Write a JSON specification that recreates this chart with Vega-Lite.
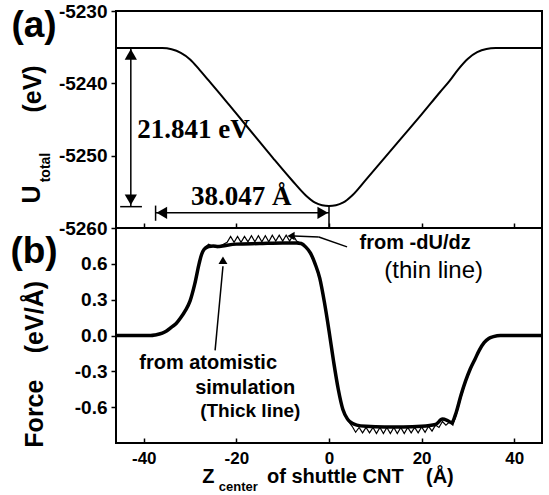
{
  "$schema": "https://vega.github.io/schema/vega-lite/v6.json",
  "padding": {"left": 9, "top": 1, "right": 0, "bottom": 0},
  "spacing": 0,
  "bounds": "flush",
  "config": {
    "view": {"stroke": "black", "strokeWidth": 2},
    "axis": {"grid": false, "domain": false, "labelFont": "Liberation Sans", "labelFontWeight": "bold", "labelColor": "black", "tickColor": "black", "tickWidth": 1.5},
    "font": "Liberation Sans"
  },
  "datasets": {
    "U": [
      {"z": -46, "U": -5235.1}, {"z": -40, "U": -5235.1}, {"z": -36, "U": -5235.12}, {"z": -34, "U": -5235.3},
      {"z": -32, "U": -5235.8}, {"z": -30, "U": -5236.7}, {"z": -28, "U": -5238.1}, {"z": -26, "U": -5239.6},
      {"z": -24, "U": -5241.1}, {"z": -20, "U": -5244.2}, {"z": -16, "U": -5247.3}, {"z": -12, "U": -5250.4},
      {"z": -8, "U": -5253.4}, {"z": -5, "U": -5255.5}, {"z": -3, "U": -5256.5}, {"z": -1.5, "U": -5256.85},
      {"z": 0, "U": -5256.95}, {"z": 1.5, "U": -5256.85}, {"z": 3, "U": -5256.5}, {"z": 5, "U": -5255.5},
      {"z": 8, "U": -5253.3}, {"z": 12, "U": -5250.3}, {"z": 16, "U": -5247.3}, {"z": 20, "U": -5244.3},
      {"z": 24, "U": -5241.2}, {"z": 26, "U": -5239.7}, {"z": 28, "U": -5238.0}, {"z": 30, "U": -5236.6},
      {"z": 32, "U": -5235.7}, {"z": 34, "U": -5235.25}, {"z": 36, "U": -5235.12}, {"z": 40, "U": -5235.1},
      {"z": 46, "U": -5235.1}
    ],
    "thick": [
      {"z": -46, "F": 0}, {"z": -40, "F": 0}, {"z": -38.5, "F": 0}, {"z": -37.5, "F": 0.005}, {"z": -36, "F": 0.02},
      {"z": -35, "F": 0.04}, {"z": -34, "F": 0.07}, {"z": -33, "F": 0.1}, {"z": -32, "F": 0.15}, {"z": -31, "F": 0.21},
      {"z": -30, "F": 0.29}, {"z": -29, "F": 0.43}, {"z": -28, "F": 0.61}, {"z": -27.5, "F": 0.68}, {"z": -27, "F": 0.72},
      {"z": -26, "F": 0.745}, {"z": -25, "F": 0.75}, {"z": -24, "F": 0.745}, {"z": -23, "F": 0.75}, {"z": -20, "F": 0.765},
      {"z": -15, "F": 0.77}, {"z": -10, "F": 0.775}, {"z": -7, "F": 0.775}, {"z": -6, "F": 0.77}, {"z": -5, "F": 0.74},
      {"z": -4, "F": 0.69}, {"z": -3, "F": 0.6}, {"z": -2, "F": 0.48}, {"z": -1, "F": 0.28}, {"z": 0, "F": 0.04},
      {"z": 1, "F": -0.22}, {"z": 2, "F": -0.45}, {"z": 3, "F": -0.62}, {"z": 4, "F": -0.7}, {"z": 5, "F": -0.735},
      {"z": 6, "F": -0.75}, {"z": 8, "F": -0.76}, {"z": 12, "F": -0.765}, {"z": 16, "F": -0.765}, {"z": 20, "F": -0.76},
      {"z": 23, "F": -0.745}, {"z": 24.5, "F": -0.7}, {"z": 25.5, "F": -0.71}, {"z": 26.5, "F": -0.73}, {"z": 27.5, "F": -0.64},
      {"z": 28.5, "F": -0.5}, {"z": 29.5, "F": -0.38}, {"z": 30.5, "F": -0.28}, {"z": 31.5, "F": -0.2}, {"z": 32.5, "F": -0.12},
      {"z": 33.5, "F": -0.06}, {"z": 34.5, "F": -0.025}, {"z": 35.5, "F": -0.01}, {"z": 37, "F": 0}, {"z": 46, "F": 0}
    ],
    "thin": [
      {"z": -46, "F": 0}, {"z": -38.5, "F": 0}, {"z": -37.5, "F": 0.005}, {"z": -36, "F": 0.02}, {"z": -35, "F": 0.04},
      {"z": -34, "F": 0.07}, {"z": -33, "F": 0.1}, {"z": -32, "F": 0.15}, {"z": -31, "F": 0.21}, {"z": -30, "F": 0.29},
      {"z": -29, "F": 0.43}, {"z": -28, "F": 0.62}, {"z": -27, "F": 0.73}, {"z": -26, "F": 0.765}, {"z": -25, "F": 0.745},
      {"z": -24, "F": 0.735}, {"z": -23, "F": 0.76}, {"z": -22, "F": 0.78}, {"z": -21.25, "F": 0.83}, {"z": -20.5, "F": 0.78},
      {"z": -19.75, "F": 0.83}, {"z": -19, "F": 0.78}, {"z": -18.25, "F": 0.83}, {"z": -17.5, "F": 0.785}, {"z": -16.75, "F": 0.835},
      {"z": -16, "F": 0.785}, {"z": -15.25, "F": 0.835}, {"z": -14.5, "F": 0.785}, {"z": -13.75, "F": 0.835}, {"z": -13, "F": 0.785},
      {"z": -12.25, "F": 0.84}, {"z": -11.5, "F": 0.79}, {"z": -10.75, "F": 0.84}, {"z": -10, "F": 0.79}, {"z": -9.25, "F": 0.84},
      {"z": -8.5, "F": 0.79}, {"z": -7.75, "F": 0.84}, {"z": -7, "F": 0.79}, {"z": -6, "F": 0.77}, {"z": -5, "F": 0.74},
      {"z": -4, "F": 0.685}, {"z": -3, "F": 0.59}, {"z": -2, "F": 0.47}, {"z": -1, "F": 0.27}, {"z": 0, "F": 0.03},
      {"z": 1, "F": -0.23}, {"z": 2, "F": -0.46}, {"z": 3, "F": -0.63}, {"z": 4, "F": -0.71}, {"z": 5, "F": -0.76},
      {"z": 5.75, "F": -0.81}, {"z": 6.5, "F": -0.77}, {"z": 7.25, "F": -0.815}, {"z": 8, "F": -0.77}, {"z": 8.75, "F": -0.815},
      {"z": 9.5, "F": -0.77}, {"z": 10.25, "F": -0.82}, {"z": 11, "F": -0.77}, {"z": 11.75, "F": -0.82}, {"z": 12.5, "F": -0.77},
      {"z": 13.25, "F": -0.82}, {"z": 14, "F": -0.77}, {"z": 14.75, "F": -0.82}, {"z": 15.5, "F": -0.77}, {"z": 16.25, "F": -0.82},
      {"z": 17, "F": -0.77}, {"z": 17.75, "F": -0.815}, {"z": 18.5, "F": -0.77}, {"z": 19.25, "F": -0.815}, {"z": 20, "F": -0.765},
      {"z": 20.75, "F": -0.81}, {"z": 21.5, "F": -0.76}, {"z": 22.25, "F": -0.8}, {"z": 23, "F": -0.75}, {"z": 23.75, "F": -0.77},
      {"z": 24.5, "F": -0.72}, {"z": 25.25, "F": -0.75}, {"z": 26, "F": -0.725}, {"z": 26.75, "F": -0.75}, {"z": 27.5, "F": -0.66},
      {"z": 28.5, "F": -0.52}, {"z": 29.5, "F": -0.39}, {"z": 30.5, "F": -0.29}, {"z": 31.5, "F": -0.2}, {"z": 32.5, "F": -0.12},
      {"z": 33.5, "F": -0.06}, {"z": 34.5, "F": -0.025}, {"z": 35.5, "F": -0.01}, {"z": 37, "F": 0}, {"z": 46, "F": 0}
    ]
  },
  "vconcat": [
    {
      "width": 426,
      "height": 217,
      "layer": [
        {
          "data": {"name": "U"},
          "mark": {"type": "line", "color": "black", "strokeWidth": 2, "interpolate": "monotone"},
          "encoding": {
            "x": {"field": "z", "type": "quantitative", "scale": {"domain": [-46, 46], "nice": false, "zero": false},
                  "axis": {"values": [-40, -20, 0, 20, 40], "labels": false, "tickSize": -5, "title": null, "orient": "bottom", "minExtent": 0, "maxExtent": 0, "labelPadding": 0}},
            "y": {"field": "U", "type": "quantitative", "scale": {"domain": [-5260, -5230], "nice": false, "zero": false},
                  "axis": {"values": [-5260, -5250, -5240, -5230], "tickSize": 5, "labelFontSize": 19, "labelPadding": 4, "title": null,
                           "labelExpr": "replace(format(datum.value, 'd'), '\u2212', '-')"}}
          }
        },
        {
          "data": {"values": [{}]},
          "mark": {"type": "rule", "color": "black", "strokeWidth": 1.5},
          "encoding": {"x": {"datum": -42.8, "type": "quantitative"}, "y": {"datum": -5235.1, "type": "quantitative"}, "y2": {"datum": -5257.0}}
        },
        {
          "data": {"values": [{}]},
          "mark": {"type": "rule", "color": "black", "strokeWidth": 1.5},
          "encoding": {"x": {"datum": -45.1, "type": "quantitative"}, "x2": {"datum": -40.4}, "y": {"datum": -5257.05, "type": "quantitative"}}
        },
        {
          "data": {"values": [{}]},
          "mark": {"type": "rule", "color": "black", "strokeWidth": 1.5},
          "encoding": {"x": {"datum": -37.45, "type": "quantitative"}, "x2": {"datum": 0}, "y": {"datum": -5257.9, "type": "quantitative"}}
        },
        {
          "data": {"values": [{}]},
          "mark": {"type": "rule", "color": "black", "strokeWidth": 1.5},
          "encoding": {"x": {"datum": -37.45, "type": "quantitative"}, "y": {"datum": -5256.9, "type": "quantitative"}, "y2": {"datum": -5259.0}}
        },
        {
          "data": {"values": [{}]},
          "mark": {"type": "rule", "color": "black", "strokeWidth": 1.5},
          "encoding": {"x": {"datum": 0, "type": "quantitative"}, "y": {"datum": -5256.95, "type": "quantitative"}, "y2": {"datum": -5259.9}}
        },
        {
          "data": {"values": [{}]},
          "mark": {"type": "point", "shape": "triangle-up", "filled": true, "color": "black", "opacity": 1, "size": 150},
          "encoding": {"x": {"datum": -42.8, "type": "quantitative"}, "y": {"datum": -5236.0, "type": "quantitative"}}
        },
        {
          "data": {"values": [{}]},
          "mark": {"type": "point", "shape": "triangle-down", "filled": true, "color": "black", "opacity": 1, "size": 150},
          "encoding": {"x": {"datum": -42.8, "type": "quantitative"}, "y": {"datum": -5256.1, "type": "quantitative"}}
        },
        {
          "data": {"values": [{}]},
          "mark": {"type": "point", "shape": "triangle-left", "filled": true, "color": "black", "opacity": 1, "size": 150},
          "encoding": {"x": {"datum": -36.1, "type": "quantitative"}, "y": {"datum": -5257.9, "type": "quantitative"}}
        },
        {
          "data": {"values": [{}]},
          "mark": {"type": "point", "shape": "triangle-right", "filled": true, "color": "black", "opacity": 1, "size": 150},
          "encoding": {"x": {"datum": -1.35, "type": "quantitative"}, "y": {"datum": -5257.9, "type": "quantitative"}}
        },
        {
          "data": {"values": [{}]},
          "mark": {"type": "text", "text": "21.841 eV", "font": "Liberation Serif", "fontWeight": "bold", "fontSize": 27, "align": "left", "baseline": "alphabetic", "color": "black"},
          "encoding": {"x": {"datum": -41.4, "type": "quantitative"}, "y": {"datum": -5247.56, "type": "quantitative"}}
        },
        {
          "data": {"values": [{}]},
          "mark": {"type": "text", "text": "38.047 Å", "font": "Liberation Serif", "fontWeight": "bold", "fontSize": 27, "align": "left", "baseline": "alphabetic", "color": "black"},
          "encoding": {"x": {"datum": -29.8, "type": "quantitative"}, "y": {"datum": -5256.8, "type": "quantitative"}}
        },
        {
          "data": {"values": [{}]},
          "mark": {"type": "text", "text": "(a)", "fontWeight": "bold", "fontSize": 37, "align": "center", "baseline": "middle", "color": "black"},
          "encoding": {"x": {"datum": -63.7, "type": "quantitative"}, "y": {"datum": -5232.07, "type": "quantitative"}}
        },
        {
          "data": {"values": [{}]},
          "mark": {"type": "text", "text": "U", "fontWeight": "bold", "fontSize": 25, "angle": 270, "align": "center", "baseline": "middle", "color": "black"},
          "encoding": {"x": {"datum": -64.1, "type": "quantitative"}, "y": {"datum": -5255.37, "type": "quantitative"}}
        },
        {
          "data": {"values": [{}]},
          "mark": {"type": "text", "text": "total", "fontWeight": "bold", "fontSize": 14, "angle": 270, "align": "center", "baseline": "middle", "color": "black"},
          "encoding": {"x": {"datum": -61.2, "type": "quantitative"}, "y": {"datum": -5251.64, "type": "quantitative"}}
        },
        {
          "data": {"values": [{}]},
          "mark": {"type": "text", "text": "(eV)", "fontWeight": "bold", "fontSize": 25, "angle": 270, "align": "center", "baseline": "middle", "color": "black"},
          "encoding": {"x": {"datum": -64.0, "type": "quantitative"}, "y": {"datum": -5240.78, "type": "quantitative"}}
        }
      ]
    },
    {
      "width": 426,
      "height": 215,
      "layer": [
        {
          "data": {"name": "thick"},
          "mark": {"type": "line", "color": "black", "strokeWidth": 3.5, "interpolate": "monotone"},
          "encoding": {
            "x": {"field": "z", "type": "quantitative", "scale": {"domain": [-46, 46], "nice": false, "zero": false},
                  "axis": {"values": [-40, -20, 0, 20, 40], "tickSize": -5, "labelFontSize": 17, "labelPadding": 12, "title": null,
                           "labelExpr": "replace(format(datum.value, 'd'), '\u2212', '-')"}},
            "y": {"field": "F", "type": "quantitative", "scale": {"domain": [-0.9, 0.9], "nice": false, "zero": false},
                  "axis": {"values": [-0.6, -0.3, 0, 0.3, 0.6], "tickSize": 5, "labelFontSize": 19, "labelPadding": 4, "title": null,
                           "labelExpr": "replace(format(datum.value, '.1f'), '\u2212', '-')"}}
          }
        },
        {
          "data": {"name": "thin"},
          "mark": {"type": "line", "color": "black", "strokeWidth": 1.2},
          "encoding": {
            "x": {"field": "z", "type": "quantitative"},
            "y": {"field": "F", "type": "quantitative"}
          }
        },
        {
          "data": {"values": [{}]},
          "mark": {"type": "rule", "color": "black", "strokeWidth": 1.5},
          "encoding": {"x": {"datum": 3.9, "type": "quantitative"}, "x2": {"datum": -2.2}, "y": {"datum": 0.742, "type": "quantitative"}, "y2": {"datum": 0.825}}
        },
        {
          "data": {"values": [{}]},
          "mark": {"type": "rule", "color": "black", "strokeWidth": 1.5},
          "encoding": {"x": {"datum": -2.2, "type": "quantitative"}, "x2": {"datum": -7.6}, "y": {"datum": 0.825, "type": "quantitative"}, "y2": {"datum": 0.833}}
        },
        {
          "data": {"values": [{}]},
          "mark": {"type": "point", "shape": "triangle-left", "filled": true, "color": "black", "opacity": 1, "size": 70},
          "encoding": {"x": {"datum": -8.2, "type": "quantitative"}, "y": {"datum": 0.833, "type": "quantitative"}}
        },
        {
          "data": {"values": [{}]},
          "mark": {"type": "rule", "color": "black", "strokeWidth": 1.5},
          "encoding": {"x": {"datum": -24.6, "type": "quantitative"}, "x2": {"datum": -22.9}, "y": {"datum": -0.125, "type": "quantitative"}, "y2": {"datum": 0.58}}
        },
        {
          "data": {"values": [{}]},
          "mark": {"type": "point", "shape": "triangle-up", "filled": true, "color": "black", "opacity": 1, "size": 80},
          "encoding": {"x": {"datum": -22.9, "type": "quantitative"}, "y": {"datum": 0.63, "type": "quantitative"}}
        },
        {
          "data": {"values": [{}]},
          "mark": {"type": "text", "text": "from -dU/dz", "fontWeight": "bold", "fontSize": 20, "align": "center", "baseline": "middle", "color": "black"},
          "encoding": {"x": {"datum": 18.6, "type": "quantitative"}, "y": {"datum": 0.775, "type": "quantitative"}}
        },
        {
          "data": {"values": [{}]},
          "mark": {"type": "text", "text": "(thin line)", "fontWeight": "normal", "fontSize": 24, "align": "center", "baseline": "middle", "color": "black"},
          "encoding": {"x": {"datum": 22.6, "type": "quantitative"}, "y": {"datum": 0.54, "type": "quantitative"}}
        },
        {
          "data": {"values": [{}]},
          "mark": {"type": "text", "text": "from atomistic", "fontWeight": "bold", "fontSize": 20, "align": "center", "baseline": "middle", "color": "black"},
          "encoding": {"x": {"datum": -26.1, "type": "quantitative"}, "y": {"datum": -0.233, "type": "quantitative"}}
        },
        {
          "data": {"values": [{}]},
          "mark": {"type": "text", "text": "simulation", "fontWeight": "bold", "fontSize": 20, "align": "center", "baseline": "middle", "color": "black"},
          "encoding": {"x": {"datum": -18.1, "type": "quantitative"}, "y": {"datum": -0.44, "type": "quantitative"}}
        },
        {
          "data": {"values": [{}]},
          "mark": {"type": "text", "text": "(Thick line)", "fontWeight": "bold", "fontSize": 19, "align": "center", "baseline": "middle", "color": "black"},
          "encoding": {"x": {"datum": -17.0, "type": "quantitative"}, "y": {"datum": -0.633, "type": "quantitative"}}
        },
        {
          "data": {"values": [{}]},
          "mark": {"type": "text", "text": "(b)", "fontWeight": "bold", "fontSize": 37, "align": "center", "baseline": "middle", "color": "black"},
          "encoding": {"x": {"datum": -63.7, "type": "quantitative"}, "y": {"datum": 0.7, "type": "quantitative"}}
        },
        {
          "data": {"values": [{}]},
          "mark": {"type": "text", "text": "Force", "fontWeight": "bold", "fontSize": 25, "angle": 270, "align": "center", "baseline": "middle", "color": "black"},
          "encoding": {"x": {"datum": -63.5, "type": "quantitative"}, "y": {"datum": -0.654, "type": "quantitative"}}
        },
        {
          "data": {"values": [{}]},
          "mark": {"type": "text", "text": "(eV/Å)", "fontWeight": "bold", "fontSize": 25, "angle": 270, "align": "center", "baseline": "middle", "color": "black"},
          "encoding": {"x": {"datum": -63.5, "type": "quantitative"}, "y": {"datum": 0.154, "type": "quantitative"}}
        },
        {
          "data": {"values": [{}]},
          "mark": {"type": "text", "text": "Z", "fontWeight": "bold", "fontSize": 20, "align": "left", "baseline": "alphabetic", "color": "black"},
          "encoding": {"x": {"datum": -27.4, "type": "quantitative"}, "y": {"datum": -1.238, "type": "quantitative"}}
        },
        {
          "data": {"values": [{}]},
          "mark": {"type": "text", "text": "center", "fontWeight": "bold", "fontSize": 13, "align": "left", "baseline": "alphabetic", "color": "black"},
          "encoding": {"x": {"datum": -23.8, "type": "quantitative"}, "y": {"datum": -1.302, "type": "quantitative"}}
        },
        {
          "data": {"values": [{}]},
          "mark": {"type": "text", "text": "of shuttle CNT", "fontWeight": "bold", "fontSize": 20, "align": "left", "baseline": "alphabetic", "color": "black"},
          "encoding": {"x": {"datum": -13.4, "type": "quantitative"}, "y": {"datum": -1.238, "type": "quantitative"}}
        },
        {
          "data": {"values": [{}]},
          "mark": {"type": "text", "text": "(Å)", "fontWeight": "bold", "fontSize": 20, "align": "left", "baseline": "alphabetic", "color": "black"},
          "encoding": {"x": {"datum": 20.95, "type": "quantitative"}, "y": {"datum": -1.238, "type": "quantitative"}}
        }
      ]
    }
  ]
}
